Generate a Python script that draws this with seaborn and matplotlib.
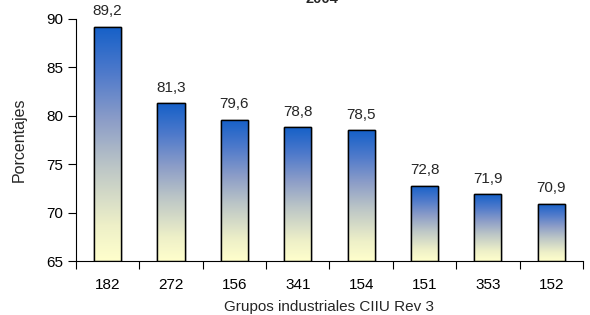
import numpy as np
import pandas as pd
import matplotlib
matplotlib.use('Agg')
import matplotlib.pyplot as plt
import seaborn as sns
from matplotlib.colors import LinearSegmentedColormap

grupos = ['182', '272', '156', '341', '154', '151', '353', '152']
porcentajes = [89.2, 81.3, 79.6, 78.8, 78.5, 72.8, 71.9, 70.9]
etiquetas = ['89,2', '81,3', '79,6', '78,8', '78,5', '72,8', '71,9', '70,9']
yticks = [65, 70, 75, 80, 85, 90]

sns.set_style('white')
plt.rcParams['font.family'] = ['Liberation Sans', 'DejaVu Sans']

df = pd.DataFrame({'grupo': grupos, 'pct': porcentajes})

fig = plt.figure(figsize=(5.9, 3.15), dpi=100)
ax = fig.add_axes([0.1288, 0.1714, 0.8592, 0.7683])

sns.barplot(data=df, x='grupo', y='pct', order=grupos, color='white',
            edgecolor='black', linewidth=1.0, width=0.43, ax=ax, zorder=2)
ax.set_ylim(65, 90)
ax.set_xlim(-0.5, len(grupos) - 0.5)

# gradient fill, blue on top to pale yellow at the base
cmap = LinearSegmentedColormap.from_list('grad', [
    (0.0, '#FFFFCC'), (0.15, '#EEF0C8'), (0.4, '#BCC6C6'),
    (0.6, '#8C9DC8'), (0.8, '#4F7ACB'), (1.0, '#1560C8')])
grad = np.linspace(0, 1, 256).reshape(-1, 1)
for bar in ax.patches:
    x0 = bar.get_x()
    w = bar.get_width()
    top = bar.get_y() + bar.get_height()
    im = ax.imshow(grad, cmap=cmap, aspect='auto', origin='lower',
                   extent=[x0, x0 + w, 65, top], zorder=2.5)
    im.set_clip_path(bar)
    edge = plt.Rectangle((x0, 65), w, top - 65, fill=False,
                         edgecolor='black', linewidth=1.0, zorder=3)
    ax.add_patch(edge)

for i, (v, lab) in enumerate(zip(porcentajes, etiquetas)):
    ax.text(i, v + 0.9, lab, ha='center', va='bottom', fontsize=11)

ax.set_yticks(yticks)
ax.set_xticks(np.arange(len(grupos)))
ax.set_xticklabels(grupos)
ax.set_xticks(np.arange(len(grupos) + 1) - 0.5, minor=True)
ax.tick_params(axis='y', labelsize=11, length=6, width=0.8, direction='out',
               left=True, pad=3, colors='black')
ax.tick_params(axis='x', which='major', labelsize=11, length=0, pad=12)
ax.tick_params(axis='x', which='minor', length=6, width=0.8, direction='out',
               bottom=True, color='black')
ax.tick_params(labelcolor='black')

sns.despine(ax=ax, top=True, right=True)
ax.spines['left'].set_color('black')
ax.spines['bottom'].set_color('black')
ax.spines['left'].set_linewidth(0.8)
ax.spines['bottom'].set_linewidth(0.8)

ax.set_xlabel('Grupos industriales CIIU Rev 3', fontsize=11, labelpad=6)
ax.set_ylabel('Porcentajes', fontsize=11.5, labelpad=14)

fig.text(0.545, 1.003, '2004', ha='center', va='center', fontsize=10.5,
         fontweight='bold')

fig.savefig('out.png', dpi=100)
